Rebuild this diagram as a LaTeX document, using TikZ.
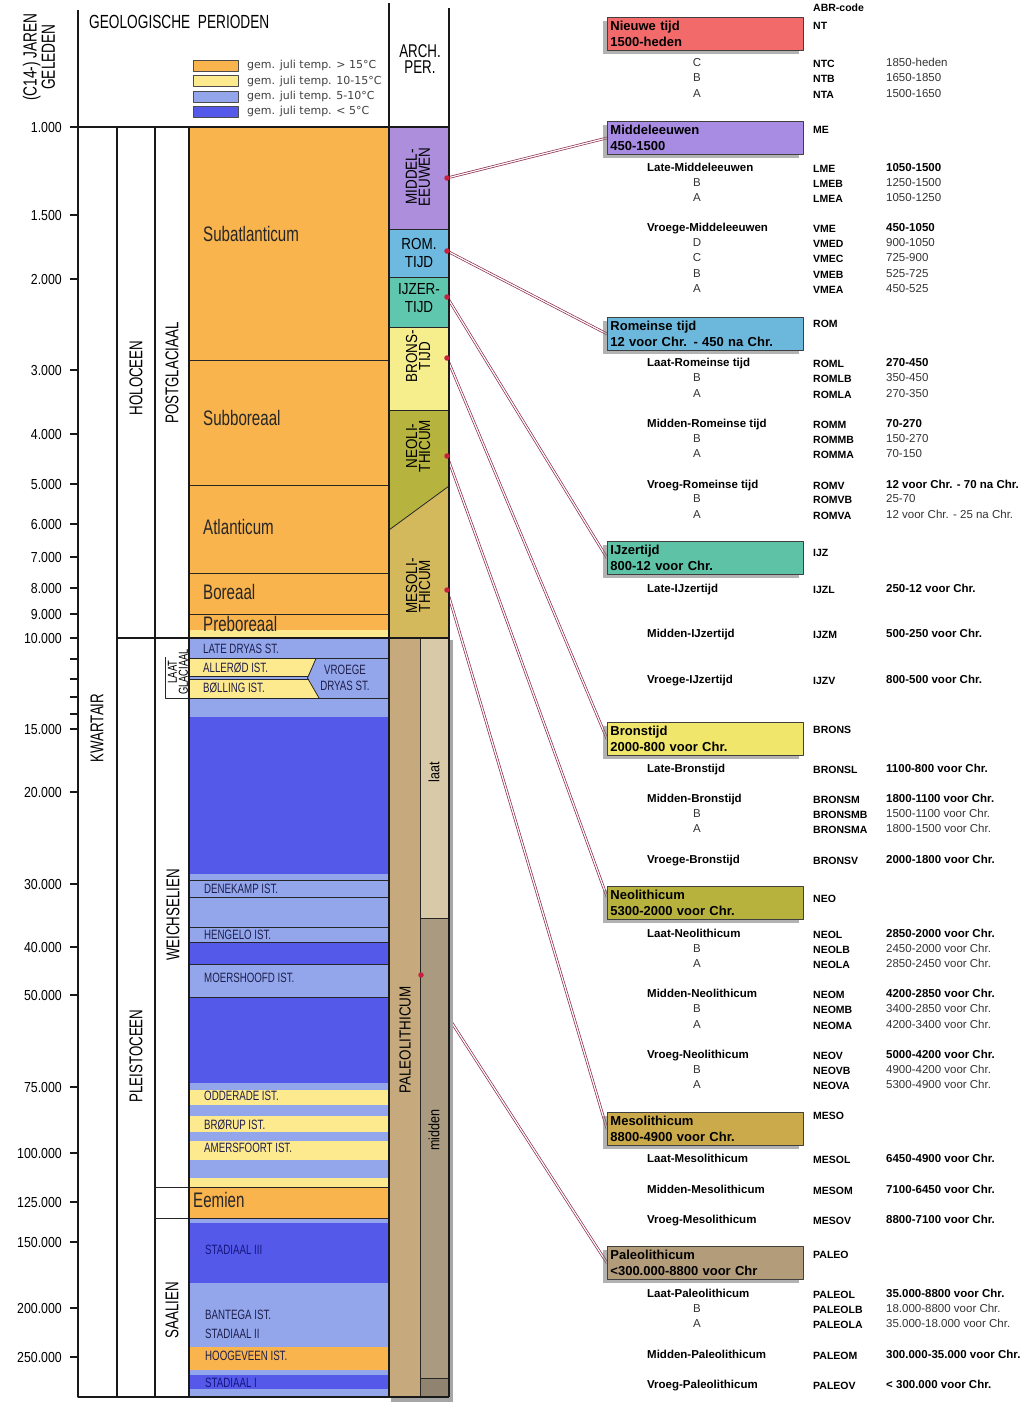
\documentclass[tikz,border=0pt]{standalone}
\usepackage{fontspec}
\setmainfont{Liberation Sans}
\newfontfamily\cond[FakeStretch=0.72]{Liberation Sans}
\newfontfamily\condn[FakeStretch=0.85]{Liberation Sans}
\newfontfamily\archf[FakeStretch=0.84]{Liberation Sans}
\newfontfamily\legf{DejaVu Sans}
\usetikzlibrary{shadows}
\pgfdeclarelayer{bg}
\pgfsetlayers{bg,main}
\definecolor{warm}{HTML}{F9B44E}
\definecolor{mild}{HTML}{FDE98E}
\definecolor{cool}{HTML}{93A6EC}
\definecolor{cold}{HTML}{5559EA}
\definecolor{cMid}{HTML}{AC8EDD}
\definecolor{cRom}{HTML}{6DB9E0}
\definecolor{cIjz}{HTML}{5FC7AE}
\definecolor{cBro}{HTML}{F6EE8C}
\definecolor{cNeo}{HTML}{B6B43E}
\definecolor{cMes}{HTML}{D3B95C}
\definecolor{cPal}{HTML}{C6AA7E}
\definecolor{cPalL}{HTML}{D8CAA8}
\definecolor{cPalM}{HTML}{AA9B80}
\definecolor{cPalV}{HTML}{908470}
\definecolor{bNT}{HTML}{F26A6A}
\definecolor{bME}{HTML}{A88BE2}
\definecolor{bROM}{HTML}{6CB8DD}
\definecolor{bIJZ}{HTML}{5EC2A6}
\definecolor{bBRO}{HTML}{F1E66C}
\definecolor{bNEO}{HTML}{B7B23E}
\definecolor{bMES}{HTML}{CBAA4C}
\definecolor{bPAL}{HTML}{B29C7A}
\definecolor{lnk}{HTML}{8E2A48}
\definecolor{dotc}{HTML}{C8203C}
\definecolor{labtxt}{HTML}{1E1E4A}
\begin{document}
\begin{tikzpicture}[x=1pt,y=-1pt,line join=round,
  frame/.style={line width=1.1pt, draw=black!90},
  bl/.style={line width=0.8pt, draw=black!85},
  bigl/.style={inner sep=0pt, anchor=west, text height=15.5pt, text depth=4.5pt, font=\cond\fontsize{21}{22}\selectfont, text=black!85},
  smal/.style={inner sep=0pt, anchor=west, text height=9.8pt, text depth=0pt, font=\cond\fontsize{13.5}{14}\selectfont, text=labtxt},
  vcol/.style={inner sep=0pt, rotate=90, font=\cond\fontsize{18.5}{19}\selectfont},
  axl/.style={inner sep=0pt, anchor=east, text height=10.5pt, text depth=0pt, font=\condn\fontsize{14.5}{15}\selectfont},
  archt/.style={inner sep=0pt, align=center, font=\archf\fontsize{16}{18}\selectfont},
  archr/.style={inner sep=0pt, align=center, rotate=90, font=\archf\fontsize{16}{13}\selectfont},
  legt/.style={inner sep=0pt, anchor=west, font=\legf\fontsize{11}{12}\selectfont, text=black!75},
  sw/.style={draw=black!70, line width=0.6pt},
  nm/.style={inner sep=0pt, anchor=west, text height=8.2pt, text depth=2.4pt, font=\bfseries\fontsize{11.5}{12}\selectfont},
  ltr/.style={inner sep=0pt, text height=8.2pt, text depth=2.4pt, font=\fontsize{11.5}{12}\selectfont, text=black!80},
  abr/.style={inner sep=0pt, anchor=west, text height=7.6pt, text depth=2.2pt, font=\bfseries\fontsize{10.5}{11}\selectfont},
  dtb/.style={inner sep=0pt, anchor=west, text height=8.2pt, text depth=2.4pt, font=\bfseries\fontsize{11.5}{12}\selectfont},
  dtr/.style={inner sep=0pt, anchor=west, text height=8.2pt, text depth=2.4pt, font=\fontsize{11.5}{12}\selectfont, text=black!80},
  pbox/.style={anchor=north west, draw=black!75, line width=0.9pt, minimum width=196pt, minimum height=33pt, text width=190pt, align=left, inner xsep=3pt, inner ysep=0pt, font=\bfseries\fontsize{13}{16.5}\selectfont, drop shadow={shadow xshift=-4pt, shadow yshift=-4pt, fill=black!55, opacity=0.55}},
  conn/.style={draw=lnk, line width=0.7pt, double=white, double distance=1.2pt},
  rdot/.style={circle, fill=dotc, inner sep=0pt, minimum size=5.5pt}]

\begin{pgfonlayer}{bg}
\fill[white] (0,0) rectangle (1024,1409);
\end{pgfonlayer}
\useasboundingbox (0,0) rectangle (1024,1409);

% ---------------- temperature bands ----------------
\fill[warm] (189,127) rectangle (389,630);
\fill[mild] (189,630) rectangle (389,638);
\fill[cool] (189,638) rectangle (389,717);
\fill[mild] (189,658.5) -- (316,658.5) -- (307.5,676.5) -- (189,676.5) -- cycle;
\fill[mild] (189,679.5) -- (309,679.5) -- (319,698) -- (189,698) -- cycle;
\fill[cold] (189,717) rectangle (389,874);
\fill[cool] (189,874) rectangle (389,942);
\fill[cold] (189,942) rectangle (389,964);
\fill[cool] (189,964) rectangle (389,997);
\fill[cold] (189,997) rectangle (389,1083);
\fill[cool] (189,1083) rectangle (389,1090);
\fill[mild] (189,1090) rectangle (389,1105);
\fill[cool] (189,1105) rectangle (389,1116);
\fill[mild] (189,1116) rectangle (389,1132);
\fill[cool] (189,1132) rectangle (389,1141);
\fill[mild] (189,1141) rectangle (389,1160);
\fill[cool] (189,1160) rectangle (389,1178);
\fill[mild] (189,1178) rectangle (389,1187);
\fill[warm] (189,1187) rectangle (389,1218);
\fill[cool] (189,1218) rectangle (389,1223);
\fill[cold] (189,1223) rectangle (389,1283);
\fill[cool] (189,1283) rectangle (389,1347);
\fill[warm] (189,1347) rectangle (389,1370);
\fill[cool] (189,1370) rectangle (389,1375);
\fill[cold] (189,1375) rectangle (389,1389);
\fill[cool] (189,1389) rectangle (389,1397);

% ---------------- archaeological column ----------------
\fill[black!35] (391,1397) rectangle (453,1402);
\fill[black!35] (449,640) rectangle (453,1402);
\fill[cMid] (389,127) rectangle (449,229);
\fill[cRom] (389,229) rectangle (449,277);
\fill[cIjz] (389,277) rectangle (449,327);
\fill[cBro] (389,327) rectangle (449,410);
\fill[cNeo] (389,410) -- (449,410) -- (449,486) -- (389,530) -- cycle;
\fill[cMes] (389,530) -- (449,486) -- (449,638) -- (389,638) -- cycle;
\fill[cPal] (389,638) rectangle (420,1397);
\fill[cPalL] (420,638) rectangle (449,918);
\fill[cPalM] (420,918) rectangle (449,1378);
\fill[cPalV] (420,1378) rectangle (449,1397);

% band lines
\foreach \yy in {360,485,573,614,658,698,880,897,927,942,964,997}
  \draw[bl] (189,\yy) -- (389,\yy);
\draw[bl] (155,1187) -- (389,1187);
\draw[bl] (155,1218) -- (389,1218);
\draw[bl] (189,676.5) -- (307.5,676.5);
\draw[bl] (189,679.5) -- (309,679.5);
\draw[bl] (316,658.5) -- (307.5,678) -- (319,698);
\foreach \yy in {229,277,327,410}
  \draw[bl] (389,\yy) -- (449,\yy);
\draw[bl] (389,530) -- (449,486);
\draw[bl] (420,638) -- (420,1397);
\draw[bl] (420,918) -- (449,918);
\draw[bl] (420,1378) -- (449,1378);

% frame
\draw[frame] (117,638) -- (449,638);
\draw[frame] (70,127) -- (449,127);
\draw[frame] (78,10) -- (78,1397) -- (449,1397);
\draw[frame] (117,127) -- (117,1397);
\draw[frame] (155,127) -- (155,1397);
\draw[frame] (189,127) -- (189,1397);
\draw[frame] (389,3) -- (389,1397);
\draw[frame] (449,8) -- (449,1397);
\draw[bl] (165,657) -- (165,698) -- (189,698);

% ticks and axis labels
\foreach \yy/\lab [count=\i] in {127/1.000,215/1.500,279/2.000,370/3.000,434/4.000,484/5.000,524/6.000,557/7.000,588/8.000,614/9.000,638/10.000,729/15.000,792/20.000,884/30.000,947/40.000,995/50.000,1087/75.000,1153/100.000,1202/125.000,1242/150.000,1308/200.000,1357/250.000}{
  \draw[frame] (70,\yy) -- (78,\yy);
  \node[axl] (ax\i) at (62,\yy) {\lab};
}
\foreach \yy in {659,679,697,714}
  \draw[frame] (70,\yy) -- (78,\yy);

% header
\node[inner sep=0pt, rotate=90, align=center, font=\cond\fontsize{19}{14.5}\selectfont] (hjaren) at (39,57) {(C14-) JAREN\\GELEDEN};
\node[inner sep=0pt, anchor=west, font=\cond\fontsize{19}{20}\selectfont] (hgeo) at (89,22) {GEOLOGISCHE\ \ PERIODEN};
\node[inner sep=0pt, anchor=north, align=center, font=\cond\fontsize{18.5}{16.5}\selectfont] (harch) at (420,44) {ARCH.\\PER.};

% legend
\draw[sw, fill=warm] (193,60) rectangle (238,71);
\draw[sw, fill=mild] (193,75.5) rectangle (238,86.5);
\draw[sw, fill=cool] (193,91) rectangle (238,102);
\draw[sw, fill=cold] (193,106) rectangle (238,117);
\node[legt] (lg1) at (247,65.5) {gem. juli temp. > 15°C};
\node[legt] (lg2) at (247,81) {gem. juli temp. 10-15°C};
\node[legt] (lg3) at (247,96.5) {gem. juli temp. 5-10°C};
\node[legt] (lg4) at (247,111.5) {gem. juli temp. < 5°C};

% column labels
\node[vcol] (kw) at (97,728) {KWARTAIR};
\node[vcol] (hol) at (136,378) {HOLOCEEN};
\node[vcol] (ple) at (136,1056) {PLEISTOCEEN};
\node[vcol] (pg) at (172,373) {POSTGLACIAAL};
\node[vcol] (wei) at (173,915) {WEICHSELIEN};
\node[vcol] (saa) at (172,1310) {SAALIEN};
\node[inner sep=0pt, rotate=90, align=center, font=\cond\fontsize{13}{11}\selectfont] (lg) at (178,672) {LAAT\\GLACIAAL};

% period names
\node[bigl] (sa) at (203,236) {Subatlanticum};
\node[bigl] (sb) at (203,420) {Subboreaal};
\node[bigl] (at) at (203,529) {Atlanticum};
\node[bigl] (bo) at (203,594) {Boreaal};
\node[bigl] (pb) at (203,626) {Preboreaal};
\node[bigl] (ee) at (193,1202) {Eemien};

% stadials / interstadials
\node[smal] (s1) at (203,649) {LATE DRYAS ST.};
\node[smal] (s2) at (203,668) {ALLERØD IST.};
\node[smal] (s3) at (203,688) {BØLLING IST.};
\node[inner sep=0pt, align=center, font=\cond\fontsize{13.5}{15.5}\selectfont, text=labtxt] (s4) at (345,678) {VROEGE\\DRYAS ST.};
\node[smal] (s5) at (204,889) {DENEKAMP IST.};
\node[smal] (s6) at (204,935) {HENGELO IST.};
\node[smal] (s7) at (204,978) {MOERSHOOFD IST.};
\node[smal] (s8) at (204,1096) {ODDERADE IST.};
\node[smal] (s9) at (204,1125) {BRØRUP IST.};
\node[smal] (s10) at (204,1148) {AMERSFOORT IST.};
\node[smal, text=labtxt!70!blue] (s11) at (205,1250) {STADIAAL III};
\node[smal] (s12) at (205,1315) {BANTEGA IST.};
\node[smal] (s13) at (205,1334) {STADIAAL II};
\node[smal] (s14) at (205,1356) {HOOGEVEEN IST.};
\node[smal, text=labtxt!70!blue] (s15) at (205,1383) {STADIAAL I};

% archaeological labels
\node[archr] (ame) at (418,177) {MIDDEL-\\EEUWEN};
\node[archt] (arom) at (419,253) {ROM.\\TIJD};
\node[archt] (aijz) at (419,298) {IJZER-\\TIJD};
\node[archr] (abro) at (418,356) {BRONS-\\TIJD};
\node[archr] (aneo) at (418,446) {NEOLI-\\THICUM};
\node[archr] (ames) at (418,586) {MESOLI-\\THICUM};
\node[inner sep=0pt, rotate=90, font=\archf\fontsize{16}{16}\selectfont] (apal) at (405,1040) {PALEOLITHICUM};
\node[inner sep=0pt, rotate=90, font=\archf\fontsize{15}{15}\selectfont] (alaat) at (434,772) {laat};
\node[inner sep=0pt, rotate=90, font=\archf\fontsize{15}{15}\selectfont] (amid) at (434,1130) {midden};

% dots
\node[rdot] (dme) at (447,178) {};
\node[rdot] (drom) at (447,251) {};
\node[rdot] (dijz) at (447,297) {};
\node[rdot] (dbro) at (447,358) {};
\node[rdot] (dneo) at (447,456) {};
\node[rdot] (dmes) at (447,590) {};
\node[rdot] (dpal) at (421,975) {};

% period boxes
\node[pbox, fill=bNT] (nt) at (607,17) {Nieuwe tijd\\1500-heden};
\node[pbox, fill=bME] (me) at (607,121) {Middeleeuwen\\450-1500};
\node[pbox, fill=bROM] (rom) at (607,317) {Romeinse tijd\\12 voor Chr. - 450 na Chr.};
\node[pbox, fill=bIJZ] (ijz) at (607,541) {IJzertijd\\800-12 voor Chr.};
\node[pbox, fill=bBRO] (bro) at (607,722) {Bronstijd\\2000-800 voor Chr.};
\node[pbox, fill=bNEO] (neo) at (607,886) {Neolithicum\\5300-2000 voor Chr.};
\node[pbox, fill=bMES] (mes) at (607,1112) {Mesolithicum\\8800-4900 voor Chr.};
\node[pbox, fill=bPAL] (pal) at (607,1246) {Paleolithicum\\<300.000-8800 voor Chr};

% connectors (behind columns and boxes)
\begin{pgfonlayer}{bg}
\draw[conn] (dme.center) -- (me.west);
\draw[conn] (drom.center) -- (rom.west);
\draw[conn] (dijz.center) -- (ijz.west);
\draw[conn] (dbro.center) -- (bro.west);
\draw[conn] (dneo.center) -- ([yshift=6pt]neo.west);
\draw[conn] (dmes.center) -- (mes.west);
\draw[conn] (dpal.center) -- (pal.west);
\end{pgfonlayer}

% ABR codes of main periods
\foreach \yy/\cd [count=\i] in {9/ABR-code,27/NT,131/ME,325/ROM,554/IJZ,731/BRONS,900/NEO,1117/MESO,1256/PALEO}
  \node[abr] (hc\i) at (813,\yy) {\cd};

% sub-periods (bold)
\foreach \yy/\nm/\cd/\dt [count=\i] in {
169/Late-Middeleeuwen/LME/1050-1500,
229/Vroege-Middeleeuwen/VME/450-1050,
364/Laat-Romeinse tijd/ROML/270-450,
425/Midden-Romeinse tijd/ROMM/70-270,
486/Vroeg-Romeinse tijd/ROMV/12 voor Chr. - 70 na Chr.,
590/Late-IJzertijd/IJZL/250-12 voor Chr.,
635/Midden-IJzertijd/IJZM/500-250 voor Chr.,
681/Vroege-IJzertijd/IJZV/800-500 voor Chr.,
770/Late-Bronstijd/BRONSL/1100-800 voor Chr.,
800/Midden-Bronstijd/BRONSM/1800-1100 voor Chr.,
861/Vroege-Bronstijd/BRONSV/2000-1800 voor Chr.,
935/Laat-Neolithicum/NEOL/2850-2000 voor Chr.,
995/Midden-Neolithicum/NEOM/4200-2850 voor Chr.,
1056/Vroeg-Neolithicum/NEOV/5000-4200 voor Chr.,
1160/Laat-Mesolithicum/MESOL/6450-4900 voor Chr.,
1191/Midden-Mesolithicum/MESOM/7100-6450 voor Chr.,
1221/Vroeg-Mesolithicum/MESOV/8800-7100 voor Chr.,
1295/Laat-Paleolithicum/PALEOL/35.000-8800 voor Chr.,
1356/Midden-Paleolithicum/PALEOM/300.000-35.000 voor Chr.,
1386/Vroeg-Paleolithicum/PALEOV/< 300.000 voor Chr.}{
  \node[nm] (sn\i) at (647,\yy) {\nm};
  \node[abr] (sc\i) at (813,\yy+1) {\cd};
  \node[dtb] (sd\i) at (886,\yy) {\dt};
}

% phases (letters)
\foreach \yy/\lt/\cd/\dt [count=\i] in {
64/C/NTC/1850-heden,
79/B/NTB/1650-1850,
95/A/NTA/1500-1650,
184/B/LMEB/1250-1500,
199/A/LMEA/1050-1250,
244/D/VMED/900-1050,
259/C/VMEC/725-900,
275/B/VMEB/525-725,
290/A/VMEA/450-525,
379/B/ROMLB/350-450,
395/A/ROMLA/270-350,
440/B/ROMMB/150-270,
455/A/ROMMA/70-150,
500/B/ROMVB/25-70,
516/A/ROMVA/12 voor Chr. - 25 na Chr.,
815/B/BRONSMB/1500-1100 voor Chr.,
830/A/BRONSMA/1800-1500 voor Chr.,
950/B/NEOLB/2450-2000 voor Chr.,
965/A/NEOLA/2850-2450 voor Chr.,
1010/B/NEOMB/3400-2850 voor Chr.,
1026/A/NEOMA/4200-3400 voor Chr.,
1071/B/NEOVB/4900-4200 voor Chr.,
1086/A/NEOVA/5300-4900 voor Chr.,
1310/B/PALEOLB/18.000-8800 voor Chr.,
1325/A/PALEOLA/35.000-18.000 voor Chr.}{
  \node[ltr] (pl\i) at (697,\yy) {\lt};
  \node[abr] (pc\i) at (813,\yy+1) {\cd};
  \node[dtr] (pd\i) at (886,\yy) {\dt};
}
\end{tikzpicture}
\end{document}
